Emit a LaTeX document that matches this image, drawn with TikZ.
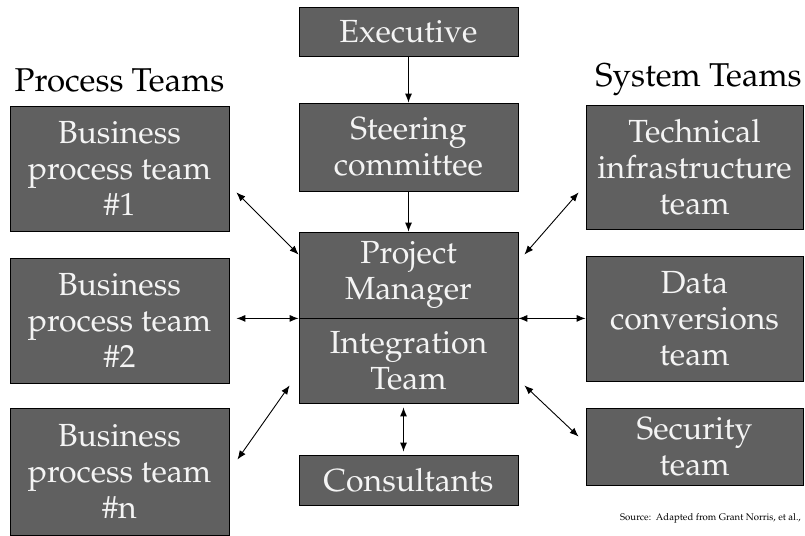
\documentclass[tikz,border=0pt]{standalone}
\usepackage[T1]{fontenc}
\usepackage{mathpazo}
\usepackage{xcolor}
\usetikzlibrary{arrows.meta,positioning,calc}
\definecolor{boxgray}{HTML}{606060}
\definecolor{boxtext}{HTML}{F4F4F4}

\begin{document}
\begin{tikzpicture}[
			x=1pt, y=-1pt,
			team/.style={rectangle, draw=black, fill=boxgray, text=boxtext, line width=0.8pt, inner sep=0pt, align=center, font=\fontsize{32}{36}\selectfont},
			heading/.style={inner sep=0pt, font=\fontsize{33}{36}\selectfont},
			link/.style={->, >={Latex[length=9pt,width=7pt]}, line width=0.9pt},
			both/.style={link, <->}
			]
			\useasboundingbox (0,0) rectangle (805,535);
			
			% Central column
			\node[team, minimum width=219pt, minimum height=49pt] (exec) at (408.5,31.5) {Executive};
			\node[team, minimum width=219pt, minimum height=88pt] (steer) at (408.5,147) {Steering\\committee};
			\node[team, minimum width=219pt, minimum height=86pt] (pm) at (408.5,275) {Project\\Manager};
			\node[team, minimum width=219pt, minimum height=85pt] (integ) at (408.5,360.5) {Integration\\Team};
			\draw[line width=1.6pt] (pm.south west) -- (pm.south east);
			\node[team, minimum width=219pt, minimum height=50pt] (cons) at (408.5,480) {Consultants};
			
			% Process teams (left)
			\node[heading] (ptitle) at (119.5,80) {Process Teams};
			\node[team, minimum width=219pt, minimum height=125pt] (bp1) at (119.5,168.5) {Business\\process team\\\#1};
			\node[team, minimum width=219pt, minimum height=125pt] (bp2) at (119.5,320.5) {Business\\process team\\\#2};
			\node[team, minimum width=219pt, minimum height=127pt] (bpn) at (119.5,471.5) {Business\\process team\\\#n};
			
			% System teams (right)
			\node[heading] (stitle) at (698.5,80) {System Teams};
			\node[team, minimum width=217pt, minimum height=124pt] (tech) at (694.5,167) {Technical\\infrastructure\\team};
			\node[team, minimum width=217pt, minimum height=125pt] (data) at (694.5,318.5) {Data\\conversions\\team};
			\node[team, minimum width=217pt, minimum height=77pt] (sec) at (694.5,446.5) {Security\\team};
			
			% Source note
			\node[inner sep=0pt, anchor=base east, font=\fontsize{9.6}{11}\selectfont] (src) at (801,520) {Source:\ \ Adapted from Grant Norris, et al.,};
			
			% Reporting line
			\draw[link] (exec) -- (steer);
			\draw[link] (steer) -- (pm);
			\draw[both] ($(integ.south)+(-5,4)$) -- ($(cons.north)+(-5,-3)$);
			
			% Team links
			\draw[both] ($(bp1.south east)+(7,-39)$) -- ($(pm.north west)+(0,23)$);
			\draw[both] ($(bp2.east |- pm.south west)+(7,0)$) -- (pm.south west);
			\draw[both] ($(bpn.north east)+(8,52)$) -- ($(integ.south west)+(-9,-18)$);
			\draw[both] ($(pm.north east)+(6,23)$) -- ($(tech.south west)+(-7,-37)$);
			\draw[both] (pm.south east) -- (data.west |- pm.south east);
			\draw[both] ($(integ.south east)+(6,-18)$) -- ($(sec.north west)+(-7,29)$);
		\end{tikzpicture}
\end{document}
